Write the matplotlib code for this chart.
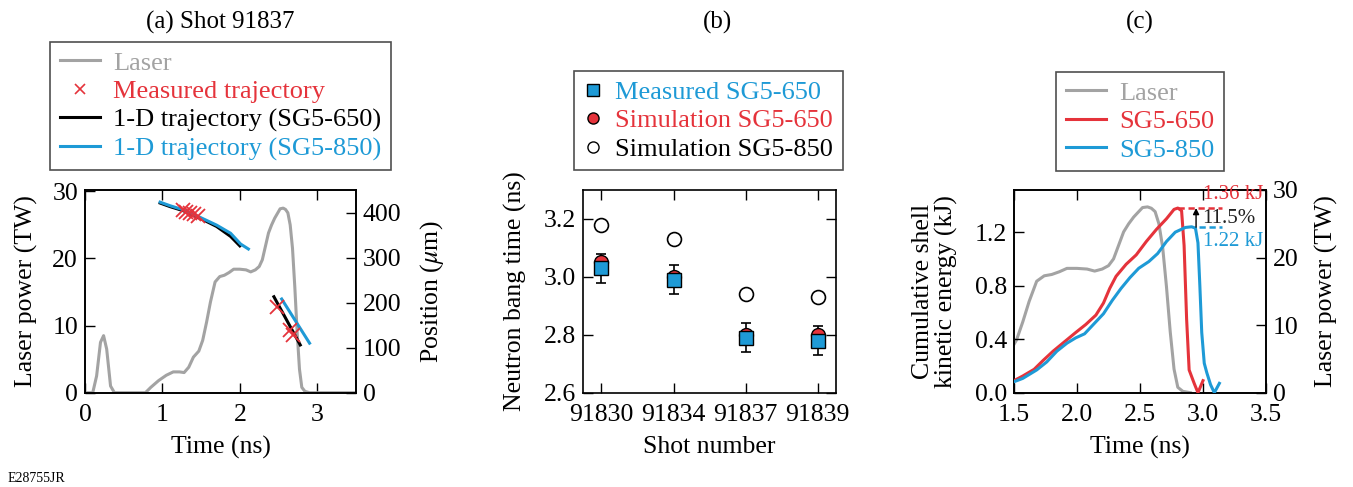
import matplotlib
matplotlib.use("Agg")
import matplotlib.pyplot as plt
import numpy as np
from matplotlib.lines import Line2D

plt.rcParams['font.family'] = ['Liberation Serif', 'DejaVu Serif']
plt.rcParams['mathtext.fontset'] = 'stix'

GRAY = '#a3a3a3'
RED = '#e5333b'
BLUE = '#1e9ad6'

# ---- Data ----
laser_t = [0.0, 0.10, 0.15, 0.20, 0.24, 0.28, 0.33, 0.38, 0.78, 0.85, 0.95, 1.05, 1.14,
           1.22, 1.28, 1.34, 1.40, 1.47, 1.52, 1.57, 1.62, 1.68, 1.74, 1.80, 1.86, 1.92,
           2.00, 2.08, 2.14, 2.20, 2.25, 2.29, 2.33, 2.37, 2.41, 2.45, 2.49, 2.52, 2.56,
           2.59, 2.62, 2.65, 2.68, 2.71, 2.74, 2.77, 2.80, 2.84, 2.90, 3.5]
laser_p = [0.0, 0.0, 2.5, 7.5, 8.5, 6.5, 1.0, 0.0, 0.0, 0.8, 1.8, 2.6, 3.1,
           3.1, 3.0, 3.8, 5.3, 6.2, 7.8, 10.5, 13.5, 16.5, 17.3, 17.5, 17.9, 18.4,
           18.4, 18.3, 18.0, 18.3, 18.8, 19.8, 21.8, 23.8, 25.0, 26.0, 26.8, 27.4, 27.5,
           27.3, 26.8, 25.0, 21.5, 15.7, 9.0, 3.5, 0.8, 0.2, 0.0, 0.0]

traj650_early_t = [0.97, 1.10, 1.27, 1.49, 1.70, 1.88, 2.00]
traj650_early_x = [421, 413, 404, 387, 369, 347, 326]
traj850_early_t = [0.97, 1.10, 1.27, 1.49, 1.70, 1.88, 2.01, 2.11]
traj850_early_x = [423, 415, 406, 389, 372, 354, 330, 319]
traj650_late_t = [2.44, 2.78]
traj650_late_x = [213, 106]
traj850_late_t = [2.54, 2.90]
traj850_late_x = [208, 110]
meas_t = [1.26, 1.31, 1.36, 1.41, 1.46, 2.48, 2.65, 2.69]
meas_x = [405, 402, 399, 396, 393, 191, 139, 128]

shots = ['91830', '91834', '91837', '91839']
bang_meas = [3.03, 2.99, 2.79, 2.78]
bang_meas_err = [0.05, 0.05, 0.05, 0.05]
bang_sim650 = [3.05, 3.00, 2.80, 2.80]
bang_sim850 = [3.18, 3.13, 2.94, 2.93]

ke650_t = [1.50, 1.57, 1.66, 1.73, 1.81, 1.90, 1.99, 2.07, 2.15, 2.21, 2.26, 2.31, 2.39,
           2.47, 2.55, 2.63, 2.71, 2.77, 2.80, 2.83, 2.85, 2.87, 2.89, 2.93, 2.96, 2.98, 3.00]
ke650_e = [0.09, 0.125, 0.175, 0.24, 0.31, 0.38, 0.45, 0.51, 0.58, 0.67, 0.78, 0.87, 0.96,
           1.03, 1.13, 1.22, 1.30, 1.37, 1.38, 1.36, 1.10, 0.55, 0.17, 0.07, 0.0, 0.045, 0.09]
ke850_t = [1.50, 1.57, 1.68, 1.76, 1.84, 1.92, 1.99, 2.06, 2.13, 2.21, 2.28, 2.35, 2.42,
           2.49, 2.57, 2.64, 2.71, 2.78, 2.86, 2.91, 2.94, 2.96, 2.975, 2.99, 3.01, 3.03,
           3.06, 3.09, 3.13]
ke850_e = [0.082, 0.107, 0.17, 0.23, 0.31, 0.37, 0.41, 0.44, 0.51, 0.59, 0.69, 0.78, 0.86,
           0.93, 0.98, 1.04, 1.13, 1.20, 1.235, 1.24, 1.23, 1.12, 0.80, 0.45, 0.22, 0.15,
           0.06, 0.0, 0.07]
peak650 = 1.38
peak850 = 1.237

W, H = 1353, 487
fig = plt.figure(figsize=(W / 100, H / 100), dpi=100)

def fx(px):
    return px / W

def fy(py):
    return 1 - py / H

TICK = 18.5
LAB = 18.5
LEG = 19
TIT = 18
ANN = 15

def style(ax, right=True, top=True):
    ax.tick_params(direction='in', length=7, width=1.0, labelsize=TICK,
                   top=top, right=right, pad=5)
    ax.tick_params(axis='x', pad=8)
    for s in ax.spines.values():
        s.set_linewidth(1.2)

def box(l, r, t, b):
    return [fx(l), fy(b), fx(r) - fx(l), fy(t) - fy(b)]

def make_legend(handles, labels, colors, cx, top, hl):
    leg = fig.legend(handles, labels, loc='upper center',
                     bbox_to_anchor=(fx(cx), fy(top)),
                     fontsize=LEG, frameon=True, fancybox=False, edgecolor='#222222',
                     handlelength=hl, handletextpad=0.5, labelspacing=0.19,
                     borderpad=0.36, borderaxespad=0)
    leg.get_frame().set_linewidth(1.2)
    for t, c in zip(leg.get_texts(), colors):
        t.set_color(c)
    return leg

# ---- Panel (a) ----
axa = fig.add_axes(box(85, 356, 190, 392.7))
axa.plot(laser_t, laser_p, color=GRAY, lw=2.2, label='Laser')
axa.set_xlim(0, 3.5)
axa.set_ylim(0, 30.2)
axa.set_xticks([0, 1, 2, 3])
axa.set_yticks([0, 10, 20, 30])
axa.set_xlabel('Time (ns)', fontsize=LAB, labelpad=7)
axa.set_ylabel('Laser power (TW)', fontsize=LAB, labelpad=10)
style(axa, right=False)
axa2 = axa.twinx()
axa2.plot(traj650_early_t, traj650_early_x, color='black', lw=2.2)
axa2.plot(traj850_early_t, traj850_early_x, color=BLUE, lw=2.2)
axa2.plot(traj650_late_t, traj650_late_x, color='black', lw=2.2)
axa2.plot(traj850_late_t, traj850_late_x, color=BLUE, lw=2.2)
axa2.plot(meas_t, meas_x, 'x', color=RED, ms=10, mew=1.3)
axa2.set_ylim(0, 450)
axa2.set_yticks([0, 100, 200, 300, 400])
axa2.set_ylabel(r'Position ($\mu$m)', fontsize=LAB, labelpad=12)
style(axa2, top=False)
axa2.tick_params(left=False)

ha = [Line2D([], [], color=GRAY, lw=2.2),
      Line2D([], [], color=RED, marker='x', ls='none', ms=7, mew=1.2),
      Line2D([], [], color='black', lw=2.2),
      Line2D([], [], color=BLUE, lw=2.2)]
la = ['Laser', 'Measured trajectory', '1-D trajectory (SG5-650)', '1-D trajectory (SG5-850)']
make_legend(ha, la, [GRAY, RED, 'black', BLUE], 220.5, 41.7, 1.5)

fig.text(fx(220), fy(22), '(a) Shot 91837', ha='center', va='center', fontsize=TIT)

# ---- Panel (b) ----
axb = fig.add_axes(box(582.7, 835.7, 190, 392.7))
xi = np.arange(len(shots))
axb.plot(xi, bang_sim850, 'o', mfc='white', mec='black', ms=10, mew=1.2, ls='none',
         zorder=3)
axb.plot(xi, bang_sim650, 'o', mfc=RED, mec='black', ms=10, mew=1.0, ls='none', zorder=3)
axb.errorbar(xi, bang_meas, yerr=bang_meas_err, fmt='none', ecolor='black', elinewidth=1.2,
             capsize=3.5, capthick=1.2, zorder=2.5)
axb.plot(xi, bang_meas, 's', mfc=BLUE, mec='black', ms=10, mew=1.0, ls='none', zorder=4)
axb.set_xlim(-0.26, 3.25)
axb.set_ylim(2.6, 3.3)
axb.set_xticks(xi)
axb.set_xticklabels(shots)
axb.set_yticks([2.6, 2.8, 3.0, 3.2])
axb.yaxis.set_major_formatter(matplotlib.ticker.FormatStrFormatter('%.1f'))
axb.set_xlabel('Shot number', fontsize=LAB, labelpad=7)
axb.set_ylabel('Neutron bang time (ns)', fontsize=LAB, labelpad=12)
style(axb)

hb = [Line2D([], [], marker='s', mfc=BLUE, mec='black', ls='none', ms=8, mew=1.0),
      Line2D([], [], marker='o', mfc=RED, mec='black', ls='none', ms=8, mew=1.0),
      Line2D([], [], marker='o', mfc='white', mec='black', ls='none', ms=8, mew=1.0)]
lb = ['Measured SG5-650', 'Simulation SG5-650', 'Simulation SG5-850']
make_legend(hb, lb, [BLUE, RED, 'black'], 708.5, 71, 0.7)
fig.text(fx(717), fy(22), '(b)', ha='center', va='center', fontsize=TIT)

# ---- Panel (c) ----
axc = fig.add_axes(box(1014, 1266, 190, 392.7))
axc.plot(ke650_t, ke650_e, color=RED, lw=2.2, zorder=3)
axc.plot(ke850_t, ke850_e, color=BLUE, lw=2.2, zorder=3)
axc.set_xlim(1.5, 3.5)
axc.set_ylim(0, 1.515)
axc.set_xticks([1.5, 2.0, 2.5, 3.0, 3.5])
axc.set_yticks([0.0, 0.4, 0.8, 1.2])
axc.xaxis.set_major_formatter(matplotlib.ticker.FormatStrFormatter('%.1f'))
axc.yaxis.set_major_formatter(matplotlib.ticker.FormatStrFormatter('%.1f'))
axc.set_xlabel('Time (ns)', fontsize=LAB, labelpad=7)
axc.set_ylabel('Cumulative shell\nkinetic energy (kJ)', fontsize=LAB, labelpad=12,
               linespacing=1.05)
style(axc, right=False)
axc.patch.set_visible(False)
axc2 = axc.twinx()
axc2.set_zorder(axc.get_zorder() - 1)
lt = np.array(laser_t)
lp = np.array(laser_p)
m = (lt >= 1.4) & (lt <= 3.0)
axc2.plot(lt[m], lp[m], color=GRAY, lw=2.2)
axc2.set_ylim(0, 30)
axc2.set_yticks([0, 10, 20, 30])
axc2.set_ylabel('Laser power (TW)', fontsize=LAB, labelpad=12)
style(axc2, top=False)
axc2.tick_params(left=False)

axc.plot([2.80, 3.15], [peak650, peak650], color=RED, lw=1.8, ls=(0, (2.5, 1.5)), zorder=4)
axc.plot([2.97, 3.15], [peak850, peak850], color=BLUE, lw=1.8, ls=(0, (2.5, 1.5)), zorder=4)
axc.annotate('', xy=(2.945, peak650), xytext=(2.945, peak850),
             arrowprops=dict(arrowstyle='-|>', color='black', lw=1.0,
                             mutation_scale=9, shrinkA=0, shrinkB=0), zorder=5)
axc.text(2.995, 1.30, '11.5%', fontsize=ANN, color='#222222', ha='left', va='center')
axc.text(3.0, 1.478, '1.36 kJ', fontsize=ANN, color=RED, ha='left', va='center',
         clip_on=False)
axc.text(3.0, 1.13, '1.22 kJ', fontsize=ANN, color=BLUE, ha='left', va='center')

hc = [Line2D([], [], color=GRAY, lw=2.2),
      Line2D([], [], color=RED, lw=2.2),
      Line2D([], [], color=BLUE, lw=2.2)]
lc = ['Laser', 'SG5-650', 'SG5-850']
make_legend(hc, lc, [GRAY, RED, BLUE], 1140, 71.7, 1.5)
fig.text(fx(1140), fy(22), '(c)', ha='center', va='center', fontsize=TIT)

fig.text(fx(8), fy(478), 'E28755JR', ha='left', va='center', fontsize=10)

fig.savefig('out.png', dpi=100)
